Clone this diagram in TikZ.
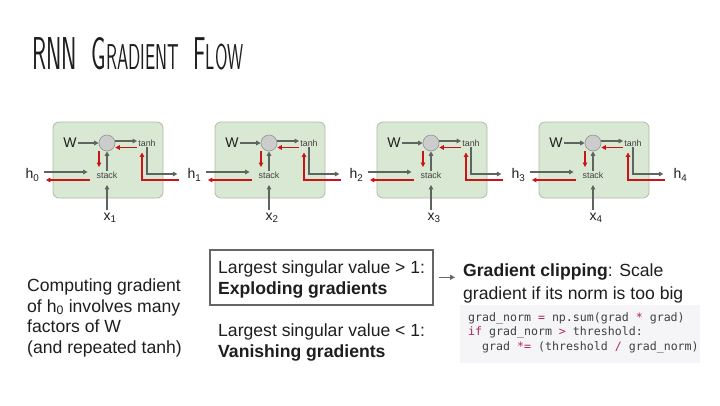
\documentclass[tikz,border=0pt]{standalone}
\usepackage{graphicx}
\usepackage{fontspec}
\setmainfont{Liberation Sans}
\newfontfamily\codefont{DejaVu Sans Mono}
\usetikzlibrary{arrows.meta,calc}
\definecolor{cellfill}{HTML}{D9E8D3}
\definecolor{celldraw}{HTML}{AEBDA8}
\definecolor{garrow}{HTML}{5E6460}
\definecolor{rarrow}{HTML}{CC1414}
\definecolor{txt}{HTML}{1E1E1E}
\definecolor{boxdraw}{HTML}{666666}
\definecolor{codebg}{HTML}{F5F5F7}
\definecolor{codetxt}{HTML}{404040}
\definecolor{codekw}{HTML}{B0285F}
\begin{document}
\begin{tikzpicture}[x=1pt,y=-1pt,
  cellbox/.style={draw=celldraw, fill=cellfill, rounded corners=6pt, minimum width=110pt, minimum height=76pt, line width=0.8pt},
  circ/.style={circle, draw=gray!85, fill=gray!40, minimum size=16pt, inner sep=0pt, line width=0.6pt},
  tinytxt/.style={font=\fontsize{8.9}{10}\selectfont, text=txt!85, inner sep=1pt},
  lbl/.style={font=\fontsize{14}{15}\selectfont, text=txt, inner sep=1pt},
  body/.style={font=\fontsize{17.6}{21}\selectfont, text=txt, inner sep=0pt, align=left},
  garr/.style={draw=garrow, line width=1.1pt, -{Triangle[length=4.5pt,width=4.5pt]}},
  rarr/.style={draw=rarrow, line width=1.5pt, -{Triangle[length=4.5pt,width=4.5pt]}},
  codeline/.style={font=\codefont\fontsize{11.6}{14}\selectfont, text=codetxt, inner sep=0pt, anchor=base west}
]
\useasboundingbox (0,0) rectangle (720,405);
\fill[white] (0,0) rectangle (720,405);

% title
\node[anchor=south west, inner sep=0pt, text=txt] (title) at (32,70)
  {\resizebox{211pt}{32pt}{\sffamily\fontsize{30}{30}\selectfont RNN\ \ G{\fontsize{23.4}{24}\selectfont RADIENT}\ \ F{\fontsize{23.4}{24}\selectfont LOW}}};

% hidden state labels
\foreach \k in {0,...,4}
  \node[lbl] (H\k) at ({32.5+162*\k},175) {h\textsubscript{\k}};

% cells
\foreach \i/\j in {0/1,1/2,2/3,3/4} {
  \begin{scope}[shift={({53+162*\i},122)}]
    \node[cellbox] (B\i) at (55,38) {};
    \node[lbl] (W\i) at (17,21) {W};
    \node[circ] (C\i) at (54,21) {};
    \node[tinytxt] (T\i) at (94,21) {tanh};
    \node[tinytxt] (S\i) at (54,53) {stack};
    \node[lbl] (X\i) at (57,96) {x\textsubscript{\j}};
    % forward (gray)
    \draw[garr] (W\i.east) -- (C\i.west);
    \draw[garr] ([yshift=2pt]C\i.east) -- ([yshift=2pt]T\i.west);
    \draw[garr] (S\i.north) -- (C\i.south);
    \draw[garr, shorten <=2pt, shorten >=5.5pt] (X\i.north -| S\i.south) -- (S\i.south);
    \draw[garr, shorten <=3.5pt, shorten >=7.8pt] ($(H\i.east)+(0,-3)$) -- ($(S\i.west |- H\i.east)+(0,-3)$);
    \draw[garr, shorten >=9pt] (T\i.south) |- ($(H\j.west)+(0,-1)$);
    % backward (red)
    \draw[rarr] ([yshift=-4.5pt]T\i.west) -- ([yshift=-4.5pt]C\i.east);
    \draw[rarr, shorten >=3.5pt] ([xshift=-8pt]C\i.south) -- ([xshift=-8pt]S\i.north);
    \draw[rarr, shorten <=5.8pt, shorten >=5.3pt] ($(S\i.west)+(0,5)$) -- ($(H\i.east |- S\i.west)+(0,5)$);
    \draw[rarr, shorten <=7pt, shorten >=5pt] ($(H\j.west)+(0,5)$) -| ($(T\i.south)+(-5,0)$);
  \end{scope}
}

% left explanation
\node[body, anchor=north west, font=\fontsize{17.6}{20.6}\selectfont] (Q) at (27,278.6)
  {Computing gradient\\of h\textsubscript{0} involves many\\factors of W\\(and repeated tanh)};

% exploding box
\node[draw=boxdraw, line width=1.6pt, anchor=north west, minimum width=223pt, minimum height=55pt, inner sep=0pt] (E) at (209,249) {};
\node[body, anchor=north west] (ET) at (218,260.6)
  {Largest singular value > 1:\\\textbf{Exploding gradients}};
\node[body, anchor=north west] (VT) at (218,323.6)
  {Largest singular value < 1:\\\textbf{Vanishing gradients}};

% gradient clipping
\node[body, anchor=north west, font=\fontsize{17.6}{22.5}\selectfont] (G) at (463,263.6)
  {\textbf{Gradient clipping}: Scale\\gradient if its norm is too big};
\draw[draw=boxdraw, line width=1.1pt, -{Triangle[length=5pt,width=5pt]}, shorten <=5pt, shorten >=8pt] (E.east) -- (E.east -| G.west);

% code
\node[fill=codebg, anchor=north west, minimum width=240pt, minimum height=58pt, inner sep=0pt] (CB) at (460,305) {};
\node[codeline] (L1) at (468,321.2) {grad\_norm {\color{codekw}=} np.sum(grad {\color{codekw}*} grad)};
\node[codeline] (L2) at (468,335.7) {{\color{codekw}if} grad\_norm {\color{codekw}>} threshold:};
\node[codeline] (L3) at (482,350.2) {grad {\color{codekw}*=} (threshold {\color{codekw}/} grad\_norm)};
\end{tikzpicture}
\end{document}
